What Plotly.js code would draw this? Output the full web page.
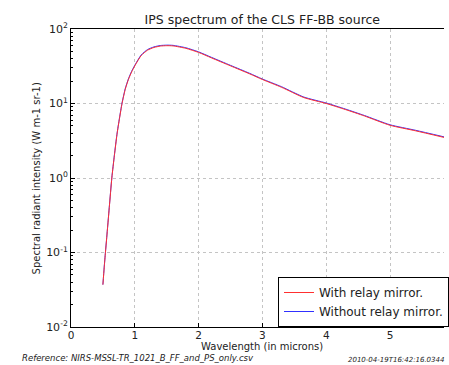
<!DOCTYPE html>
<html><head><meta charset="utf-8">
<script src="https://cdn.plot.ly/plotly-3.0.1.min.js"></script>
<style>html,body{margin:0;padding:0;background:#fff;}#chart{width:449px;height:365px;}</style>
</head><body><div id="chart"></div>
<script>
const wavelength = [0.50,0.52,0.54,0.56,0.60,0.64,0.68,0.72,0.76,0.80,0.85,0.90,0.95,1.0,1.1,1.2,1.3,1.4,1.5,1.6,1.8,2.0,2.2,2.5,2.8,3.0,3.3,3.65,4.0,4.3,4.6,5.0,5.4,5.85];
const withMirror = [0.037,0.062,0.10,0.158,0.40,1.0,2.0,3.8,6.3,10.0,15.5,21,26.5,32,44,52,56.5,59,59.7,59.3,55,48.5,41,32,25,21,16.5,12.0,10.0,8.3,6.8,5.1,4.3,3.5];
const withoutMirror = [0.037,0.063,0.101,0.16,0.405,1.01,2.03,3.85,6.4,10.15,15.8,21.4,27,32.6,44.8,53,57.5,60,60.7,60.3,56,49.3,41.7,32.5,25.4,21.3,16.8,12.2,10.15,8.43,6.9,5.18,4.37,3.56];
const yTickVals = [0.01,0.1,1,10,100];
const yTickText = ['10<sup>-2</sup>','10<sup>-1</sup>','10<sup>0</sup>','10<sup>1</sup>','10<sup>2</sup>'];
const xTickVals = [0,1,2,3,4,5];

const traces = [
  {x: wavelength, y: withoutMirror, mode:'lines', name:'Without relay mirror.', line:{color:'#3030ff', width:1, shape:'spline', smoothing:0.6}, legendrank:2},
  {x: wavelength, y: withMirror, mode:'lines', name:'With relay mirror.', line:{color:'#ff3030', width:1, shape:'spline', smoothing:0.6}, legendrank:1}
];
const fnt = 'DejaVu Sans, sans-serif';
const layout = {
  width:449, height:365,
  margin:{l:71, r:0, t:29, b:38},
  paper_bgcolor:'#fff', plot_bgcolor:'#fff',
  font:{family:fnt, color:'#222', size:11},
  title:{text:'IPS spectrum of the CLS FF-BB source', font:{size:12.5, family:fnt, color:'#222'}, xref:'paper', x:0.513, xanchor:'center', y:1, yref:'paper', yanchor:'bottom', pad:{b:5}},
  showlegend:true,
  legend:{x:0.555, xanchor:'left', y:0.0, yanchor:'bottom', bgcolor:'#fff', bordercolor:'#000', borderwidth:1,
    font:{size:12, family:fnt, color:'#222'}, traceorder:'normal', itemwidth:30, tracegroupgap:0, entrywidth:180, entrywidthmode:'pixels'},
  xaxis:{range:[0,5.846], tickvals:xTickVals, ticktext:xTickVals.map(String), ticks:'inside', ticklen:4, tickcolor:'#000',
    showline:true, linecolor:'#000', linewidth:1, mirror:true, showgrid:true, gridcolor:'#c4c4c4', griddash:'dot', gridwidth:1,
    zeroline:false, tickfont:{size:10.5, color:'#222'}, ticklabelstandoff:-2},
  yaxis:{type:'log', range:[-2,2], tickvals:yTickVals, ticktext:yTickText, ticks:'inside', ticklen:4, tickcolor:'#000',
    showline:true, linecolor:'#000', linewidth:1, mirror:false, showgrid:true, gridcolor:'#c4c4c4', griddash:'dot', gridwidth:1,
    zeroline:false, tickfont:{size:11, color:'#222'},
    minor:{dtick:'D1', ticks:'inside', ticklen:2, tickcolor:'#000', showgrid:false}},
  annotations:[
    {text:'Wavelength (in microns)', xref:'paper', yref:'paper', x:(265-71)/378, y:(327-346)/298, xanchor:'center', yanchor:'middle', showarrow:false, font:{size:10, family:fnt, color:'#222'}},
    {text:'Spectral radiant intensity (W m-1 sr-1)', xref:'paper', yref:'paper', x:(36-71)/378, y:0.5, xanchor:'center', yanchor:'middle', textangle:-90, showarrow:false, font:{size:10, family:fnt, color:'#222'}},
    {text:'<i>Reference: NIRS-MSSL-TR_1021_B_FF_and_PS_only.csv</i>', xref:'paper', yref:'paper', x:(19-71)/378, y:(327-358)/298, xanchor:'left', yanchor:'middle', showarrow:false, font:{size:8.5, family:fnt, color:'#222'}},
    {text:'<i>2010-04-19T16:42:16.0344</i>', xref:'paper', yref:'paper', x:1.006, y:(327-360)/298, xanchor:'right', yanchor:'middle', showarrow:false, font:{size:7, family:fnt, color:'#222'}}
  ]
};
Plotly.newPlot('chart', traces, layout, {displayModeBar:false, staticPlot:true});
</script></body></html>
